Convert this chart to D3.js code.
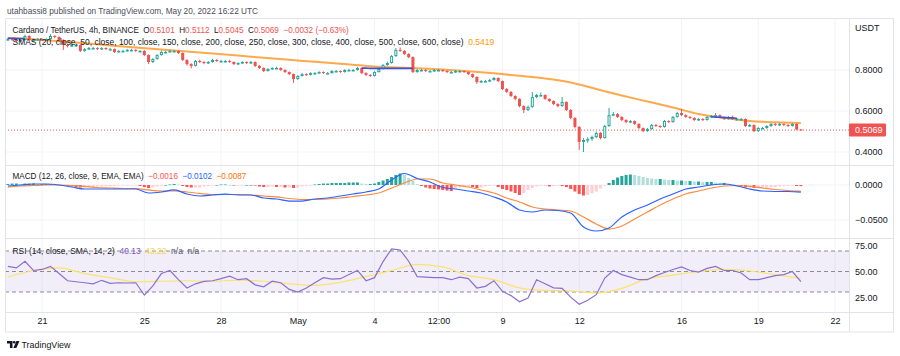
<!DOCTYPE html>
<html><head><meta charset="utf-8">
<script src="https://cdn.jsdelivr.net/npm/d3@7"></script>
<style>
body{margin:0;background:#fff;}
svg{display:block;font-family:"Liberation Sans",Arial,sans-serif;}
text{white-space:pre;}
</style>
</head><body>
<svg id="c" width="900" height="356"></svg>
<script>
// ---------------- DATA ----------------
const symbolTitle = "Cardano / TetherUS, 4h, BINANCE";
const firstCandleUTC = Date.UTC(2022, 3, 19, 16); // 4h candles from Apr 19 16:00 UTC
const opens = [
.946,.951,.946,.941,.946,.966,.946,.946,.951,.946,
.951,.966,.961,.946,.922,.917,.922,.922,.893,.902,
.907,.907,.902,.907,.902,.902,.888,.893,.893,.898,
.898,.893,.893,.873,.839,.854,.873,.888,.888,.893,
.893,.883,.849,.829,.820,.844,.839,.834,.839,.849,
.844,.844,.844,.839,.829,.834,.839,.834,.839,.820,
.810,.795,.805,.810,.810,.800,.790,.780,.756,.771,
.780,.776,.785,.785,.790,.785,.785,.795,.795,.790,
.800,.800,.800,.810,.785,.776,.771,.790,.805,.824,
.834,.868,.898,.893,.878,.863,.790,.800,.800,.795,
.795,.800,.800,.795,.790,.790,.795,.795,.790,.780,
.766,.741,.746,.746,.751,.761,.746,.707,.693,.673,
.659,.624,.605,.620,.668,.678,.678,.659,.649,.634,
.624,.644,.605,.566,.522,.449,.459,.463,.473,.493,
.468,.527,.580,.585,.571,.556,.546,.551,.537,.517,
.502,.512,.532,.527,.522,.551,.546,.571,.590,.580,
.571,.566,.556,.561,.556,.571,.576,.580,.571,.561,
.571,.561,.561,.561,.527,.532,.502,.517,.517,.527,
.537,.532,.537,.532,.527,.537,.5101];
const highs = [
.958,.955,.949,.950,.972,.970,.952,.956,.955,.955,
.975,.970,.964,.950,.928,.927,.928,.925,.907,.912,
.913,.911,.911,.910,.908,.905,.898,.899,.903,.904,
.902,.898,.897,.876,.858,.877,.895,.894,.898,.898,
.896,.886,.852,.833,.849,.850,.843,.844,.855,.853,
.850,.849,.848,.842,.838,.843,.842,.844,.842,.824,
.813,.809,.814,.816,.813,.803,.793,.783,.775,.785,
.784,.789,.790,.794,.793,.790,.799,.800,.798,.804,
.806,.805,.815,.812,.789,.780,.794,.809,.829,.840,
.873,.907,.910,.897,.882,.866,.805,.806,.804,.800,
.805,.806,.803,.799,.795,.800,.800,.798,.793,.783,
.769,.751,.752,.756,.766,.764,.749,.712,.697,.677,
.662,.628,.626,.693,.683,.690,.681,.662,.652,.638,
.668,.647,.609,.570,.526,.468,.472,.480,.500,.497,
.532,.615,.595,.590,.575,.560,.556,.554,.540,.520,
.517,.537,.536,.530,.556,.555,.576,.596,.610,.584,
.575,.570,.566,.565,.575,.580,.590,.583,.575,.576,
.578,.566,.566,.564,.537,.535,.521,.522,.531,.541,
.541,.542,.540,.536,.541,.540,.5112];
const lows = [
.943,.942,.936,.938,.944,.942,.940,.943,.941,.943,
.948,.955,.941,.898,.910,.912,.915,.888,.889,.898,
.902,.897,.898,.897,.896,.883,.885,.888,.890,.893,
.888,.887,.868,.829,.834,.850,.870,.882,.885,.887,
.878,.844,.822,.808,.817,.834,.828,.830,.836,.839,
.839,.838,.835,.824,.825,.830,.829,.830,.815,.805,
.790,.792,.801,.805,.796,.786,.775,.737,.752,.768,
.771,.773,.780,.781,.781,.780,.782,.790,.786,.787,
.795,.795,.797,.780,.771,.766,.768,.787,.802,.820,
.831,.864,.888,.873,.858,.785,.786,.795,.790,.790,
.791,.795,.790,.785,.785,.786,.790,.785,.775,.761,
.732,.737,.741,.742,.748,.741,.702,.688,.668,.652,
.618,.590,.600,.615,.663,.671,.654,.643,.629,.618,
.620,.600,.560,.515,.410,.400,.445,.455,.468,.462,
.465,.522,.575,.566,.550,.540,.541,.532,.512,.497,
.498,.508,.522,.517,.519,.541,.543,.567,.575,.566,
.561,.551,.552,.551,.553,.567,.572,.566,.556,.558,
.556,.556,.555,.522,.522,.497,.498,.512,.513,.523,
.527,.528,.527,.522,.524,.506,.5045];
const closes = [
.951,.946,.941,.946,.966,.946,.946,.951,.946,.951,
.966,.961,.946,.922,.917,.922,.922,.893,.902,.907,
.907,.902,.907,.902,.902,.888,.893,.893,.898,.898,
.893,.893,.873,.839,.854,.873,.888,.888,.893,.893,
.883,.849,.829,.820,.844,.839,.834,.839,.849,.844,
.844,.844,.839,.829,.834,.839,.834,.839,.820,.810,
.795,.805,.810,.810,.800,.790,.780,.756,.771,.780,
.776,.785,.785,.790,.785,.785,.795,.795,.790,.800,
.800,.800,.810,.785,.776,.771,.790,.805,.824,.834,
.868,.898,.893,.878,.863,.790,.800,.800,.795,.795,
.800,.800,.795,.790,.790,.795,.795,.790,.780,.766,
.741,.746,.746,.751,.761,.746,.707,.693,.673,.659,
.624,.605,.620,.668,.678,.678,.659,.649,.634,.624,
.644,.605,.566,.522,.449,.459,.463,.473,.493,.468,
.527,.580,.585,.571,.556,.546,.551,.537,.517,.502,
.512,.532,.527,.522,.551,.546,.571,.590,.580,.571,
.566,.556,.561,.556,.571,.576,.580,.571,.561,.571,
.561,.561,.561,.527,.532,.502,.517,.517,.527,.537,
.532,.537,.532,.527,.537,.5101,.5069];

// long SMA (orange), one value per 6 candles
const smaStep = 6;
const smaOrange = [.9561,.9498,.9400,.9302,.9200,.9102,.9000,.8902,.8800,.8702,.8600,.8502,.8400,.8302,.8200,.8132,
.8083,.8020,.7941,.7839,.7717,.7585,.7390,.7073,.6756,.6463,.6171,.5854,.5659,.5512,.5449,.5419];
// short visible pieces of other SMAs (blue), one value per candle
const blueSmaEarlyStart = 0;
const blueSmaEarly = [.955,.955,.954,.954,.953];
const blueSmaMay4Start = 83;
const blueSmaMay4 = [.809,.809,.808,.808,.808,.808,.808,.808,.808,.808,.808,.808,.808];
const blueSmaMay17Start = 165;
const blueSmaMay17 = [.572,.570,.569,.568,.567,.566,.565];

// MACD (12,26,9): lines one value per 3 candles, histogram per candle
const macdStep = 3;
const macdLine = [
-0.0014,0.0000,0.0014,0.0014,0.0000,-0.0029,-0.0057,-0.0057,-0.0057,-0.0057,
-0.0057,-0.0114,-0.0100,-0.0071,-0.0129,-0.0157,-0.0143,-0.0129,-0.0143,-0.0143,
-0.0186,-0.0200,-0.0229,-0.0229,-0.0200,-0.0186,-0.0157,-0.0129,-0.0100,-0.0057,
0.0071,0.0164,0.0093,0.0043,-0.0036,-0.0057,-0.0086,-0.0114,-0.0171,-0.0243,
-0.0357,-0.0386,-0.0357,-0.0364,-0.0400,-0.0600,-0.0657,-0.0614,-0.0457,-0.0357,
-0.0286,-0.0200,-0.0129,-0.0057,-0.0029,0.0000,0.0014,-0.0014,-0.0057,-0.0086,
-0.0093,-0.0093,-0.0102];
const signalLine = [
-0.0029,-0.0014,-0.0007,0.0000,0.0000,-0.0007,-0.0021,-0.0036,-0.0043,-0.0050,
-0.0050,-0.0071,-0.0086,-0.0086,-0.0100,-0.0121,-0.0136,-0.0136,-0.0136,-0.0143,
-0.0157,-0.0171,-0.0193,-0.0207,-0.0207,-0.0200,-0.0186,-0.0164,-0.0143,-0.0114,
-0.0043,0.0029,0.0086,0.0086,0.0029,0.0000,-0.0029,-0.0071,-0.0114,-0.0186,
-0.0243,-0.0314,-0.0343,-0.0357,-0.0371,-0.0457,-0.0557,-0.0629,-0.0586,-0.0486,
-0.0386,-0.0286,-0.0200,-0.0129,-0.0086,-0.0043,-0.0014,-0.0007,-0.0021,-0.0043,
-0.0064,-0.0079,-0.0087];
const macdHist = [
0.0014,0.0021,0.0021,0.0014,0.0021,0.0021,0.0021,0.0014,0.0014,0.0014,
0.0014,0.0007,0,-0.0007,-0.0014,-0.0021,-0.0029,-0.0036,-0.0036,-0.0029,
-0.0029,-0.0021,-0.0021,-0.0014,-0.0014,-0.0014,-0.0007,-0.0007,-0.0007,-0.0007,
-0.0007,-0.0014,-0.0029,-0.0043,-0.0036,-0.0021,-0.0014,0,0.0007,0.0014,
0.0007,-0.0014,-0.0029,-0.0036,-0.0036,-0.0036,-0.0021,-0.0014,-0.0007,0,
0.0007,0.0007,0,-0.0007,-0.0007,-0.0007,0,0,-0.0007,-0.0021,
-0.0029,-0.0029,-0.0021,-0.0029,-0.0029,-0.0036,-0.0036,-0.0043,-0.0036,-0.0021,
-0.0014,-0.0007,0.0007,0.0014,0.0021,0.0021,0.0029,0.0029,0.0029,0.0029,
0.0036,0.0036,0.0036,0.0021,0.0014,0.0014,0.0021,0.0043,0.0064,0.0086,
0.0114,0.0143,0.0164,0.0143,0.0100,0.0057,0.0014,-0.0014,-0.0036,-0.0050,
-0.0057,-0.0064,-0.0071,-0.0079,-0.0086,-0.0057,-0.0036,-0.0029,-0.0021,-0.0029,
-0.0043,-0.0036,-0.0021,-0.0014,-0.0007,-0.0029,-0.0057,-0.0071,-0.0093,-0.0114,
-0.0143,-0.0114,-0.0071,-0.0043,-0.0021,-0.0014,-0.0014,-0.0021,-0.0014,-0.0007,
-0.0014,-0.0029,-0.0057,-0.0093,-0.0129,-0.0150,-0.0143,-0.0121,-0.0093,-0.0050,
-0.0007,0.0029,0.0071,0.0107,0.0129,0.0143,0.0150,0.0143,0.0129,0.0114,
0.0100,0.0093,0.0086,0.0086,0.0079,0.0071,0.0071,0.0064,0.0064,0.0057,
0.0057,0.0050,0.0050,0.0043,0.0043,0.0043,0.0036,0.0029,0.0029,0.0014,
0,-0.0007,-0.0021,-0.0036,-0.0036,-0.0043,-0.0043,-0.0043,-0.0036,-0.0029,
-0.0029,-0.0021,-0.0014,-0.0014,-0.0007,-0.0014,-0.0016];

// RSI (14) one value per 2 candles, its SMA one value per 6 candles
const rsiStep = 2;
const rsiValues = [
55,53.5,60,51,52,55,48,41,40,39,
38,41.4,38.5,39,38.8,39,27,36,48,51,
42,33.9,38,40.3,41,43,45.4,42,43,37,
35,40.5,39,32.5,30,33.9,39,44,42.5,43,
47,51,41,44,59.7,72,71,60,45,44.5,
44,44,42,44.5,43,33.9,35.5,41,30.6,26.5,
20.5,24.2,42,38,34,33.5,25,18,22,27.4,
43.6,51,47,44.5,42,42,46,49,52,54.5,
51,49.5,53,55,51,51,48.5,42,42,44,
46,47,50,40.13];
const rsiMaStep = 6;
const rsiMa = [44.6,51,53.5,48,44,40,40.5,41,40.5,41.5,40.5,38,36.5,39.5,45,51,57,54.5,46,42,34,31.5,31,29,33.5,43,46.5,50,52,50.5,47,43.22];

// axis ticks
const timeTickDates = [[2022,3,21,0],[2022,3,25,0],[2022,3,28,0],[2022,4,1,0],[2022,4,4,0],[2022,4,6,12],[2022,4,9,0],[2022,4,12,0],[2022,4,16,0],[2022,4,19,0],[2022,4,22,0]];
const timeTickLabels = ["21","25","28","May","4","12:00","9","12","16","19","22"];
const priceTicks = [0.4, 0.6, 0.8];
const macdTicks = [-0.05, 0];
const rsiTicks = [25, 50, 75];
const rsiBands = [30, 50, 70];

// ---------------- DRAW ----------------
const svg = d3.select("#c");
const H4 = 4 * 3600 * 1000;
const tOf = i => new Date(firstCandleUTC + i * H4);
const L = 5, R = 849, FR = 893;
const panes = {price: [19, 165], macd: [165, 238], rsi: [238, 312]};

const x = d3.scaleUtc().domain([new Date(Date.UTC(2022,3,21)), new Date(Date.UTC(2022,4,22))]).range([42, 835]);
const yP = d3.scaleLinear().domain([0.4, 0.8]).range([152, 70]);
const yM = d3.scaleLinear().domain([-0.05, 0]).range([220, 185]);
const yR = d3.scaleLinear().domain([30, 70]).range([292, 251]);

const GRID = "#f0f3fa", SEP = "#e0e3eb", TXT = "#131722";
const UP = "#26a69a", DOWN = "#ef5350";
const minus = s => s.replace("-", "\u2212");

svg.append("rect").attr("width", 900).attr("height", 356).attr("fill", "#fff");

const defs = svg.append("defs");
Object.entries(panes).forEach(([k, [a, b]]) => {
  defs.append("clipPath").attr("id", "clip-" + k).append("rect")
    .attr("x", L).attr("y", a).attr("width", R - L).attr("height", b - a);
});

// grid
const tickDates = timeTickDates.map(d => new Date(Date.UTC(d[0], d[1], d[2], d[3])));
const grid = svg.append("g");
tickDates.forEach(d => grid.append("line").attr("x1", x(d)).attr("x2", x(d)).attr("y1", 19).attr("y2", 312).attr("stroke", GRID));
priceTicks.forEach(v => grid.append("line").attr("x1", L).attr("x2", R).attr("y1", yP(v)).attr("y2", yP(v)).attr("stroke", GRID));
macdTicks.forEach(v => grid.append("line").attr("x1", L).attr("x2", R).attr("y1", yM(v)).attr("y2", yM(v)).attr("stroke", GRID));

// ----- RSI band
const rsiG = svg.append("g").attr("clip-path", "url(#clip-rsi)");
rsiG.append("rect").attr("x", L).attr("width", R - L).attr("y", yR(70)).attr("height", yR(30) - yR(70)).attr("fill", "rgba(126,87,194,0.1)");
rsiBands.forEach(v => rsiG.append("line").attr("x1", L).attr("x2", R).attr("y1", yR(v)).attr("y2", yR(v))
  .attr("stroke", "#8a8d96").attr("stroke-dasharray", "4,3").attr("stroke-width", 1));

// ----- price pane
const pG = svg.append("g").attr("clip-path", "url(#clip-price)");
const lastClose = closes[closes.length - 1];
pG.append("line").attr("x1", L).attr("x2", R).attr("y1", yP(lastClose)).attr("y2", yP(lastClose))
  .attr("stroke", DOWN).attr("stroke-dasharray", "1,2").attr("stroke-width", 1);

const smaLine = (vals, step, start) => d3.line()
  .x((d, k) => x(tOf(start + k * step))).y(d => yP(d)).curve(d3.curveMonotoneX)(vals);
pG.append("path").attr("d", smaLine(smaOrange, smaStep, 0)).attr("fill", "none").attr("stroke", "#ffa94d").attr("stroke-width", 2);

closes.forEach((c, i) => {
  const o = opens[i], h = highs[i], l = lows[i];
  const cx = x(tOf(i));
  const up = c >= o;
  const col = up ? UP : DOWN;
  const top = yP(Math.max(o, c)), bot = yP(Math.min(o, c));
  const bh = Math.max(bot - top, 1);
  if (up) {
    pG.append("line").attr("x1", cx).attr("x2", cx).attr("y1", yP(h)).attr("y2", top).attr("stroke", col);
    pG.append("line").attr("x1", cx).attr("x2", cx).attr("y1", top + bh).attr("y2", yP(l)).attr("stroke", col);
    pG.append("rect").attr("x", cx - 1).attr("y", top + 0.5).attr("width", 2).attr("height", Math.max(bh - 1, 0.5))
      .attr("fill", "#fff").attr("stroke", col).attr("stroke-width", 1);
  } else {
    pG.append("line").attr("x1", cx).attr("x2", cx).attr("y1", yP(h)).attr("y2", yP(l)).attr("stroke", col);
    pG.append("rect").attr("x", cx - 1.5).attr("y", top).attr("width", 3).attr("height", bh).attr("fill", col);
  }
});
[[blueSmaEarly, blueSmaEarlyStart], [blueSmaMay4, blueSmaMay4Start], [blueSmaMay17, blueSmaMay17Start]].forEach(([v, s]) =>
  pG.append("path").attr("d", smaLine(v, 1, s)).attr("fill", "none").attr("stroke", "#3f51d8").attr("stroke-width", 1.6));

// ----- MACD pane
const mG = svg.append("g").attr("clip-path", "url(#clip-macd)");
macdHist.forEach((v, i) => {
  const prev = i > 0 ? macdHist[i - 1] : v;
  let col;
  if (v >= 0) col = v >= prev ? "#26a69a" : "#b2dfdb";
  else col = v < prev ? "#ff5252" : "#ffcdd2";
  const cx = x(tOf(i));
  const y0 = yM(0), y1 = yM(v);
  mG.append("rect").attr("x", cx - 1.5).attr("width", 3)
    .attr("y", Math.min(y0, y1)).attr("height", Math.max(Math.abs(y1 - y0), 0.6)).attr("fill", col);
});
const mLine = (vals, step) => d3.line().x((d, k) => x(tOf(k * step))).y(d => yM(d)).curve(d3.curveMonotoneX)(vals);
mG.append("path").attr("d", mLine(signalLine, macdStep)).attr("fill", "none").attr("stroke", "#ff8a3d").attr("stroke-width", 1.2);
mG.append("path").attr("d", mLine(macdLine, macdStep)).attr("fill", "none").attr("stroke", "#2962ff").attr("stroke-width", 1.2);

// ----- RSI lines
const rLine = (vals, step, curve) => d3.line().x((d, k) => x(tOf(k * step))).y(d => yR(d)).curve(curve)(vals);
rsiG.append("path").attr("d", rLine(rsiMa, rsiMaStep, d3.curveMonotoneX)).attr("fill", "none").attr("stroke", "#fbe36b").attr("stroke-width", 1.2);
rsiG.append("path").attr("d", rLine(rsiValues, rsiStep, d3.curveLinear)).attr("fill", "none").attr("stroke", "#8b6fd0").attr("stroke-width", 1.2);

// ----- frame & separators
const fr = svg.append("g").attr("fill", "none").attr("stroke", SEP);
fr.append("rect").attr("x", L + 0.5).attr("y", 18.5).attr("width", FR - L).attr("height", 332 - 18.5);
[165, 238, 312].forEach(yy => fr.append("line").attr("x1", L).attr("x2", FR + 0.5).attr("y1", yy + 0.5).attr("y2", yy + 0.5));
fr.append("line").attr("x1", R + 0.5).attr("x2", R + 0.5).attr("y1", 18.5).attr("y2", 332);

// ----- axes (labels via d3 axes)
function rightAxis(scale, ticks, fmt) {
  const g = svg.append("g").attr("transform", `translate(${R + 2},0)`)
    .call(d3.axisRight(scale).tickValues(ticks).tickFormat(fmt).tickSize(0).tickPadding(4));
  g.select(".domain").remove();
  g.selectAll("text").attr("font-size", 9).attr("fill", TXT).attr("font-family", "Liberation Sans, Arial, sans-serif");
}
rightAxis(yP, priceTicks, d => d.toFixed(4));
rightAxis(yM, macdTicks, d => minus(d.toFixed(4)));
rightAxis(yR, rsiTicks, d => d.toFixed(2));

const xg = svg.append("g").attr("transform", "translate(0,316)")
  .call(d3.axisBottom(x).tickValues(tickDates).tickFormat((d, k) => timeTickLabels[k]).tickSize(0).tickPadding(2));
xg.select(".domain").remove();
xg.selectAll("text").attr("font-size", 9).attr("fill", TXT).attr("font-family", "Liberation Sans, Arial, sans-serif");

svg.append("text").attr("x", 855).attr("y", 31).attr("font-size", 9).attr("fill", TXT).text("USDT");
svg.append("rect").attr("x", R).attr("y", yP(lastClose) - 6.5).attr("width", 37).attr("height", 13).attr("rx", 1).attr("fill", "#f05350");
svg.append("text").attr("x", R + 6).attr("y", yP(lastClose) + 3.3).attr("font-size", 9).attr("fill", "#fff").text(lastClose.toFixed(4));

// ----- texts
function txt(s, xx, yy, col, size, w) {
  const t = svg.append("text").attr("x", xx).attr("y", yy).attr("font-size", size).attr("fill", col).text(s);
  if (w) t.attr("textLength", w).attr("lengthAdjust", "spacingAndGlyphs");
  return t;
}
// one text element per legend row, coloured parts flow as tspans; the row is squeezed horizontally to the reference width
function legendRow(parts, xx, yy, w) {
  const t = svg.append("text").attr("font-size", 9).attr("transform", `translate(${xx},${yy})`);
  parts.forEach(([s, col]) => t.append("tspan").attr("fill", col).text(s));
  const nat = t.node().getComputedTextLength();
  t.attr("transform", `translate(${xx},${yy}) scale(${(w / nat).toFixed(4)},1)`);
  return t;
}
const SP = "\u00a0\u00a0";
txt("utahbassi8 published on TradingView.com, May 20, 2022 16:22 UTC", 7, 14, "#4a4e59", 9.5, 251);

const o = opens[opens.length - 1], h = highs[highs.length - 1], l = lows[lows.length - 1], c = lastClose;
const chg = c - o;
legendRow([
  [symbolTitle + SP + "O", TXT], [o.toFixed(4), DOWN],
  [SP + "H", TXT], [h.toFixed(4), DOWN],
  [SP + "L", TXT], [l.toFixed(4), DOWN],
  [SP + "C", TXT], [c.toFixed(4), DOWN],
  [SP + minus(chg.toFixed(4)) + " (" + minus((chg / o * 100).toFixed(2)) + "%)", DOWN]
], 12.5, 32.5, 337);

legendRow([
  ["SMAS (20, close, 50, close, 100, close, 150, close, 200, close, 250, close, 300, close, 400, close, 500, close, 600, close)" + SP, TXT],
  [smaOrange[smaOrange.length - 1].toFixed(4), "#ff9800"]
], 12.5, 45, 482);

legendRow([
  ["MACD (12, 26, close, 9, EMA, EMA)" + SP, TXT],
  [minus(macdHist[macdHist.length - 1].toFixed(4)), "#ff5252"],
  [SP + minus(macdLine[macdLine.length - 1].toFixed(4)), "#2962ff"],
  [SP + minus(signalLine[signalLine.length - 1].toFixed(4)), "#ff6d00"]
], 12.5, 178.5, 234);

legendRow([
  ["RSI (14, close, SMA, 14, 2)" + SP, TXT],
  [rsiValues[rsiValues.length - 1].toFixed(2), "#7e57c2"],
  [SP + rsiMa[rsiMa.length - 1].toFixed(2), "#f5d63d"],
  [SP + "n/a" + SP + "n/a", "#50535e"]
], 12.5, 253.5, 187);

// TradingView logo
const lg = svg.append("g").attr("fill", "#131722");
lg.append("path").attr("d", "M7,341 h5.5 v7 h-2.6 v-4.6 h-2.9 z");
lg.append("circle").attr("cx", 14.2).attr("cy", 342.3).attr("r", 1.3);
lg.append("path").attr("d", "M16.4,341 h3 l-3,7 h-3 z");
txt("TradingView", 21.5, 348, "#131722", 9.5, 49);
</script>
</body></html>
